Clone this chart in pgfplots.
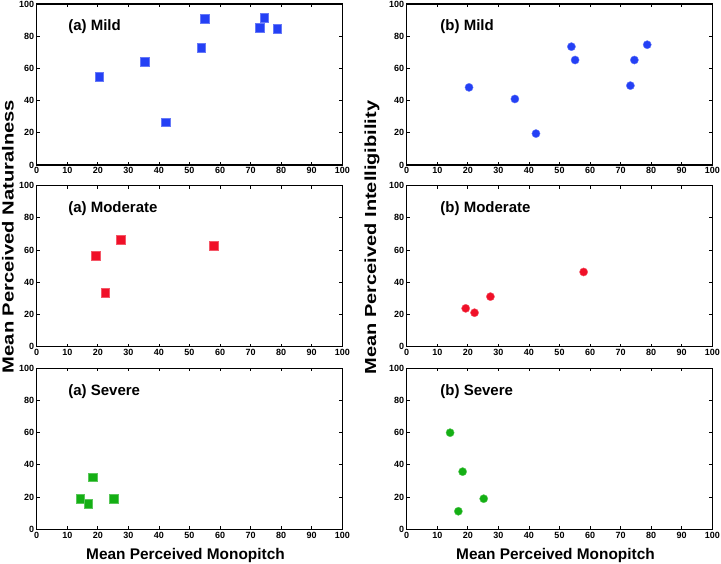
\documentclass[border=0pt]{standalone}
\usepackage{fontspec}
\setmainfont{Liberation Sans}
\usepackage{graphicx}
\usepackage{pgfplots}
\pgfplotsset{compat=1.18}
\definecolor{mblue}{RGB}{36,64,245}
\definecolor{mred}{RGB}{240,16,40}
\definecolor{mgreen}{RGB}{20,175,20}
\tikzset{lab/.style={anchor=west, font=\bfseries\fontsize{15}{15}\selectfont}}
\pgfplotsset{
  panel/.style={
    scale only axis, width=305.6pt, height=161pt,
    xmin=0, xmax=100, ymin=0, ymax=100,
    xtick={0,10,...,100}, ytick={0,20,...,100},
    tick align=inside, major tick length=3pt,
    tick style={black, line width=0.8pt},
    axis line style={black, line width=1.3pt},
    ticklabel style={font=\bfseries\fontsize{9}{9}\selectfont},
    /pgf/number format/assume math mode=true,
    xticklabel style={yshift=1pt},
    yticklabel style={xshift=1pt},
    clip=false,
  },
  sq/.style={only marks, mark=square*, mark size=4.3pt, mark options={draw=#1!70!white, fill=#1, line width=0.4pt}},
  ci/.style={only marks, mark=*, mark size=4.1pt, mark options={draw=#1!70!white, fill=#1, line width=0.4pt}},
  xl/.style={xlabel style={at={(axis description cs:0.5,0)}, yshift=-26pt, xshift=-4pt, anchor=center, font=\bfseries\fontsize{15.4}{16}\selectfont}},
}
\begin{document}
\begin{tikzpicture}
\useasboundingbox (0pt,0pt) rectangle (721pt,564pt);
% Left column
\begin{axis}[panel, at={(36.7pt,399pt)}, anchor=south west]
\addplot[sq=mblue] coordinates {(20.4,54.9) (35.4,64.0) (42.3,26.7) (53.8,72.9) (55.0,90.7) (73.0,85.3) (74.4,91.3) (78.7,84.7)};
\node[lab] at (axis cs:9.2,86) {(a) Mild};
\end{axis}
\begin{axis}[panel, at={(36.7pt,217.3pt)}, anchor=south west]
\addplot[sq=mred] coordinates {(19.3,56.5) (22.4,33.5) (27.5,66.5) (57.9,62.7)};
\node[lab] at (axis cs:9.2,85.5) {(a) Moderate};
\end{axis}
\begin{axis}[panel, xl, at={(36.7pt,34.7pt)}, anchor=south west, xlabel={Mean Perceived Monopitch}]
\addplot[sq=mgreen] coordinates {(14.2,19.0) (16.9,15.9) (18.3,32.3) (25.2,19.0)};
\node[lab] at (axis cs:9.2,85.5) {(a) Severe};
\end{axis}
% Right column
\begin{axis}[panel, at={(406.7pt,399pt)}, anchor=south west]
\addplot[ci=mblue] coordinates {(20.4,48.2) (35.4,41.0) (42.3,19.5) (53.9,73.5) (55.1,65.2) (73.2,49.3) (74.5,65.2) (78.7,74.7)};
\node[lab] at (axis cs:9.9,86) {(b) Mild};
\end{axis}
\begin{axis}[panel, at={(406.7pt,217.3pt)}, anchor=south west]
\addplot[ci=mred] coordinates {(19.3,23.8) (22.2,21.1) (27.4,31.1) (57.9,46.4)};
\node[lab] at (axis cs:9.9,85.5) {(b) Moderate};
\end{axis}
\begin{axis}[panel, xl, at={(406.7pt,34.7pt)}, anchor=south west, xlabel={Mean Perceived Monopitch}]
\addplot[ci=mgreen] coordinates {(14.2,60.0) (16.9,11.2) (18.3,35.8) (25.2,19.0)};
\node[lab] at (axis cs:9.9,85.5) {(b) Severe};
\end{axis}
% Y labels
\node[rotate=90, anchor=center, font=\bfseries\fontsize{16}{17}\selectfont] at (8pt,327.5pt) {\scalebox{1.26}[1]{Mean Perceived Naturalness}};
\node[rotate=90, anchor=center, font=\bfseries\fontsize{16}{17}\selectfont] at (372pt,326.5pt) {\scalebox{1.25}[1]{Mean Perceived Intelligibility}};
\end{tikzpicture}
\end{document}
